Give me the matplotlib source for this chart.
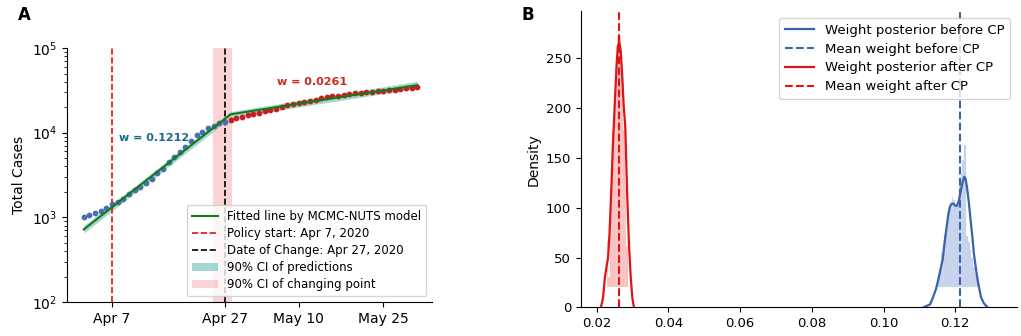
import matplotlib
matplotlib.use("Agg")
import matplotlib.pyplot as plt
import numpy as np
import pandas as pd

# ---- panel A: cumulative cases ----
before_dates = pd.date_range("2020-04-02", "2020-04-27")
before_cases = [1000, 1057, 1114, 1189, 1276, 1435, 1531, 1633, 1888, 2104,
                2259, 2564, 2838, 3311, 3690, 4467, 5117, 5970, 6839, 8054,
                9300, 10300, 11300, 12100, 12900, 13500]
after_dates = pd.date_range("2020-04-28", "2020-05-31")
after_cases = [14300, 14900, 15500, 16000, 16600, 17200, 17900, 18500, 19300, 20200,
               21100, 21800, 22400, 23100, 23900, 24600, 25400, 26100, 26800, 27500,
               28100, 28600, 29100, 29600, 30100, 30500, 30800, 31300, 31800, 32300,
               32800, 33300, 33800, 34300]

fit_dates = pd.to_datetime(["2020-04-02", "2020-04-28", "2020-05-31"])
fit_cases = [720, 16500, 36500]
fit_lo = [650, 15000, 33500]
fit_hi = [800, 17800, 40500]

policy_date = pd.Timestamp("2020-04-07")
change_date = pd.Timestamp("2020-04-27")
cp_ci_lo = pd.Timestamp("2020-04-24 19:00")
cp_ci_hi = pd.Timestamp("2020-04-28 05:00")

w_before = 0.1212
w_after = 0.0261

xtick_dates = pd.to_datetime(["2020-04-07", "2020-04-27", "2020-05-10", "2020-05-25"])
xtick_labels = ["Apr 7", "Apr 27", "May 10", "May 25"]

# ---- panel B: weight posteriors ----
red_kde_x = [0.0212, 0.0218, 0.0223, 0.0228, 0.0232, 0.0236, 0.0240, 0.0245, 0.0250,
             0.0255, 0.0259, 0.0263, 0.0267, 0.0271, 0.0275, 0.0280, 0.0285, 0.0290,
             0.0295, 0.0300, 0.0304]
red_kde_y = [0, 10, 30, 42, 50, 75, 110, 160, 200, 240, 262, 266, 258, 235, 205, 180,
             115, 65, 30, 8, 0]
blue_kde_x = [0.1112, 0.1130, 0.1139, 0.1146, 0.1153, 0.1160, 0.1165, 0.1170, 0.1176,
              0.1181, 0.1185, 0.1190, 0.1195, 0.1200, 0.1205, 0.1210, 0.1215, 0.1220,
              0.1225, 0.1229, 0.1233, 0.1238, 0.1243, 0.1248, 0.1252, 0.1258, 0.1264,
              0.1272, 0.1280, 0.1290]
blue_kde_y = [0, 3, 11, 18, 28, 40, 48, 64, 81, 94, 101, 104, 104, 102, 102, 107, 116,
              125, 131, 129, 120, 105, 87, 70, 54, 38, 24, 10, 4, 0]

red_hist_left = 0.0228
red_hist_heights = [67, 30, 120, 178, 215, 250, 272, 272, 235, 178, 120, 62]
blue_hist_left = 0.1150
blue_hist_heights = [30, 38, 55, 64, 74, 82, 98, 104, 111, 108, 102, 106,
                     122, 134, 148, 163, 72, 66, 58, 50, 40, 33, 28, 24]
hist_width = 0.0005
hist_floor = 20

mean_before = 0.1212
mean_after = 0.0261


def make_figure() -> None:
    fig = plt.figure(figsize=(10.21, 3.36), dpi=100)

    # ---------------- panel A ----------------
    ax = fig.add_axes([0.0656, 0.1012, 0.3575, 0.7558])
    ax.fill_between(fit_dates, fit_lo, fit_hi, color="#4db3ad", alpha=0.5, lw=0,
                    label="90% CI of predictions")
    ax.axvspan(cp_ci_lo, cp_ci_hi, color="#f4a0a0", alpha=0.45, lw=0,
               label="90% CI of changing point")
    ax.scatter(before_dates, before_cases, s=10, color="#4a6fb0", zorder=3)
    ax.scatter(after_dates, after_cases, s=10, color="#c81e1e", zorder=3)
    ax.plot(fit_dates, fit_cases, color="#157a15", lw=1.5, zorder=4,
            label="Fitted line by MCMC-NUTS model")
    ax.axvline(policy_date, color="#e01010", ls="--", lw=1.2,
               label="Policy start: Apr 7, 2020")
    ax.axvline(change_date, color="black", ls="--", lw=1.2,
               label="Date of Change: Apr 27, 2020")

    ax.text(pd.Timestamp("2020-04-14 10:00"), 8600, f"w = {w_before}", color="#1d6a86",
            fontsize=8, fontweight="bold", ha="center", va="center")
    ax.text(pd.Timestamp("2020-05-12 10:00"), 40000, f"w = {w_after}", color="#cc2a1a",
            fontsize=8, fontweight="bold", ha="center", va="center")

    ax.set_yscale("log")
    ax.set_ylim(100, 1e5)
    ax.set_xlim(policy_date - pd.Timedelta(days=7.96), policy_date + pd.Timedelta(days=56.6))
    ax.set_xticks(xtick_dates)
    ax.set_xticklabels(xtick_labels)
    ax.set_ylabel("Total Cases", fontsize=10)
    ax.tick_params(labelsize=10)
    for side in ("top", "right"):
        ax.spines[side].set_visible(False)

    handles, labels = ax.get_legend_handles_labels()
    order = ["Fitted line by MCMC-NUTS model", "Policy start: Apr 7, 2020",
             "Date of Change: Apr 27, 2020", "90% CI of predictions",
             "90% CI of changing point"]
    lookup = dict(zip(labels, handles))
    ax.legend([lookup[k] for k in order], order, loc="lower right", fontsize=8.5,
              frameon=True, handlelength=2.2, borderpad=0.4, labelspacing=0.35)

    # ---------------- panel B ----------------
    bx = fig.add_axes([0.569, 0.0854, 0.427, 0.8816])
    red_left = red_hist_left + hist_width * np.arange(len(red_hist_heights))
    blue_left = blue_hist_left + hist_width * np.arange(len(blue_hist_heights))
    bx.bar(red_left, np.array(red_hist_heights) - hist_floor, width=hist_width,
           bottom=hist_floor, align="edge", color="#f7bcbc",
           edgecolor="#fde4e4", linewidth=0.2)
    bx.bar(blue_left, np.array(blue_hist_heights) - hist_floor, width=hist_width,
           bottom=hist_floor, align="edge", color="#c0cfea",
           edgecolor="#e3e9f5", linewidth=0.2)
    bx.plot(blue_kde_x, blue_kde_y, color="#3b63ab", lw=1.6,
            label="Weight posterior before CP")
    bx.axvline(mean_before, color="#3b63ab", ls="--", lw=1.5,
               label="Mean weight before CP")
    bx.plot(red_kde_x, red_kde_y, color="#e01414", lw=1.6,
            label="Weight posterior after CP")
    bx.axvline(mean_after, color="#e01414", ls="--", lw=1.5,
               label="Mean weight after CP")

    bx.set_xlim(0.01562, 0.1372)
    bx.set_ylim(0, 297.5)
    bx.set_xticks([0.02, 0.04, 0.06, 0.08, 0.10, 0.12])
    bx.set_yticks([0, 50, 100, 150, 200, 250])
    bx.set_ylabel("Density", fontsize=10)
    bx.tick_params(labelsize=9.5)
    for side in ("top", "right"):
        bx.spines[side].set_visible(False)
    bx.legend(loc="upper right", fontsize=9.5, frameon=True, handlelength=2.2,
              borderpad=0.45, labelspacing=0.45)

    fig.text(0.018, 0.955, "A", fontsize=12, fontweight="bold", va="center")
    fig.text(0.511, 0.955, "B", fontsize=12, fontweight="bold", va="center")

    fig.savefig("out.png", dpi=100, facecolor="white")
    plt.close(fig)


if __name__ == "__main__":
    make_figure()
